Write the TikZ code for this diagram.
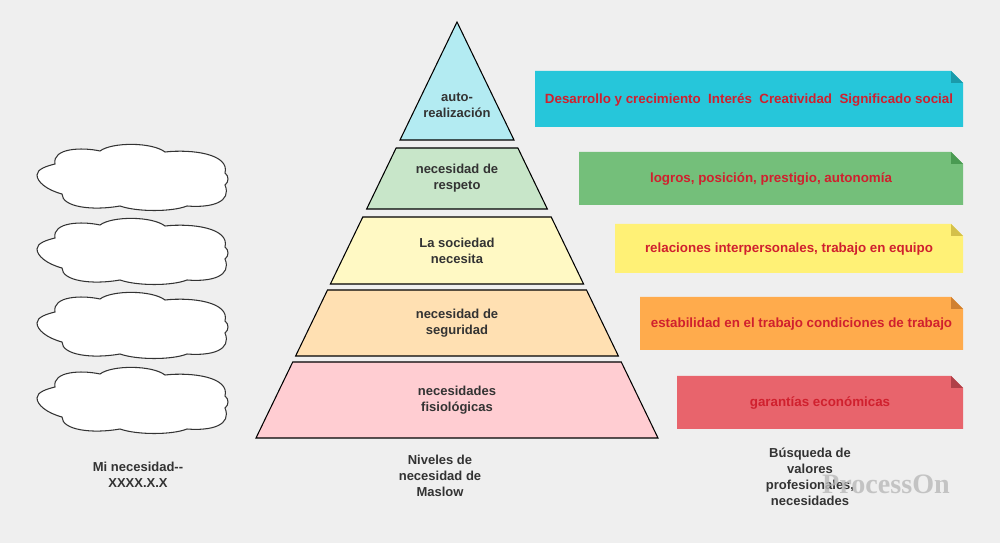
\documentclass[tikz,border=0pt]{standalone}
\usepackage{fontspec}
\setmainfont{Liberation Sans}
\newfontfamily\wmfont{Liberation Serif}
\definecolor{bg}{HTML}{EFEFEF}
\definecolor{txt}{HTML}{333333}
\definecolor{rtxt}{HTML}{D0202E}
\definecolor{p1}{HTML}{B3EBF2}
\definecolor{p2}{HTML}{C8E6C9}
\definecolor{p3}{HTML}{FFF9C4}
\definecolor{p4}{HTML}{FFE0B2}
\definecolor{p5}{HTML}{FFCDD2}
\definecolor{r1}{HTML}{26C6DA}\definecolor{d1}{HTML}{1A9AAA}
\definecolor{r2}{HTML}{74BF7A}\definecolor{d2}{HTML}{4A9A52}
\definecolor{r3}{HTML}{FFF176}\definecolor{d3}{HTML}{D4C04A}
\definecolor{r4}{HTML}{FFAB4C}\definecolor{d4}{HTML}{D08030}
\definecolor{r5}{HTML}{E8646C}\definecolor{d5}{HTML}{B04048}
\begin{document}
\begin{tikzpicture}[x=0.02cm,y=-0.02cm,
  lbl/.style={font=\fontsize{7.4}{9.2}\selectfont\bfseries,text=txt,align=center},
  rib/.style={font=\fontsize{7.6}{9}\selectfont\bfseries,text=rtxt},
  band/.style={draw=black,line width=0.6pt},
  cl/.style={draw=black!80,line width=0.6pt,fill=white}]
\fill[bg] (0,0) rectangle (1000,543);
\useasboundingbox (0,0) rectangle (1000,543);
\def\hw#1{(#1-22)*0.48317}
\newcommand\bandpoly[4]{%
  \filldraw[band,fill=#3] ({457-\hw{#1}},#1) -- ({457+\hw{#1}},#1) -- ({457+\hw{#2}},#2) -- ({457-\hw{#2}},#2) -- cycle;
  \coordinate (#4) at (457,{(#1+#2)/2});}
\filldraw[band,fill=p1] (457,22) -- ({457+\hw{140}},140) -- ({457-\hw{140}},140) -- cycle;
\coordinate (b1) at (457,105);
\bandpoly{148}{209}{p2}{b2}
\bandpoly{217}{284}{p3}{b3}
\bandpoly{290}{356}{p4}{b4}
\bandpoly{362}{438}{p5}{b5}
\node[lbl] at (b1) {auto-\\realización};
\node[lbl] at (b2) {necesidad de\\respeto};
\node[lbl] at (b3) {La sociedad\\necesita};
\node[lbl] at (b4) {necesidad de\\seguridad};
\node[lbl] at (b5) {necesidades\\fisiológicas};
\newcommand\ribbon[6]{%
  \fill[#4] (#1,#2) -- (951,#2) -- (963,{#2+12}) -- (963,#3) -- (#1,#3) -- cycle;
  \fill[#5] (951,#2) -- (963,{#2+12}) -- (951,{#2+12}) -- cycle;
  \node[rib] at ({(#1+963)/2},{(#2+#3)/2+1}) {#6};}
\ribbon{535}{71}{127}{r1}{d1}{Desarrollo y crecimiento\ \ Interés\ \ Creatividad\ \ Significado social}
\ribbon{579}{152}{205}{r2}{d2}{logros, posición, prestigio, autonomía}
\ribbon{615}{224}{273}{r3}{d3}{relaciones interpersonales, trabajo en equipo}
\ribbon{640}{297}{350}{r4}{d4}{estabilidad en el trabajo condiciones de trabajo}
\ribbon{677}{376}{429}{r5}{d5}{garantías económicas}
\newcommand\cloudat[1]{%
  \begin{scope}[shift={#1}]
  \filldraw[cl] (-95,-2) .. controls (-95,-8) and (-85,-11) .. (-77,-13)
   .. controls (-80,-29) and (-50,-30) .. (-32,-26)
   .. controls (-20,-35) and (20,-35) .. (33,-25)
   .. controls (60,-28) and (98,-23) .. (93,-4)
   .. controls (97,-1) and (97,5) .. (93,8)
   .. controls (100,25) and (80,31) .. (55,29)
   .. controls (40,35) and (5,35) .. (-12,29)
   .. controls (-40,34) and (-70,30) .. (-70,17)
   .. controls (-85,13) and (-95,5) .. (-95,-2) -- cycle;
  \end{scope}}
\cloudat{(132,177)}
\cloudat{(132,251)}
\cloudat{(132,325)}
\cloudat{(132,400)}
\node[lbl] (m) at (138,475) {Mi necesidad{-}{-}\\XXXX.X.X};
\node[lbl] (n) at (440,476) {Niveles de\\necesidad de\\Maslow};
\node[lbl] (b) at (810,477) {Búsqueda de\\valores\\profesionales,\\necesidades};
\node[font=\fontsize{16}{16}\selectfont\bfseries\wmfont,text=gray!55,opacity=0.8] at (886,484) {ProcessOn};
\end{tikzpicture}
\end{document}
